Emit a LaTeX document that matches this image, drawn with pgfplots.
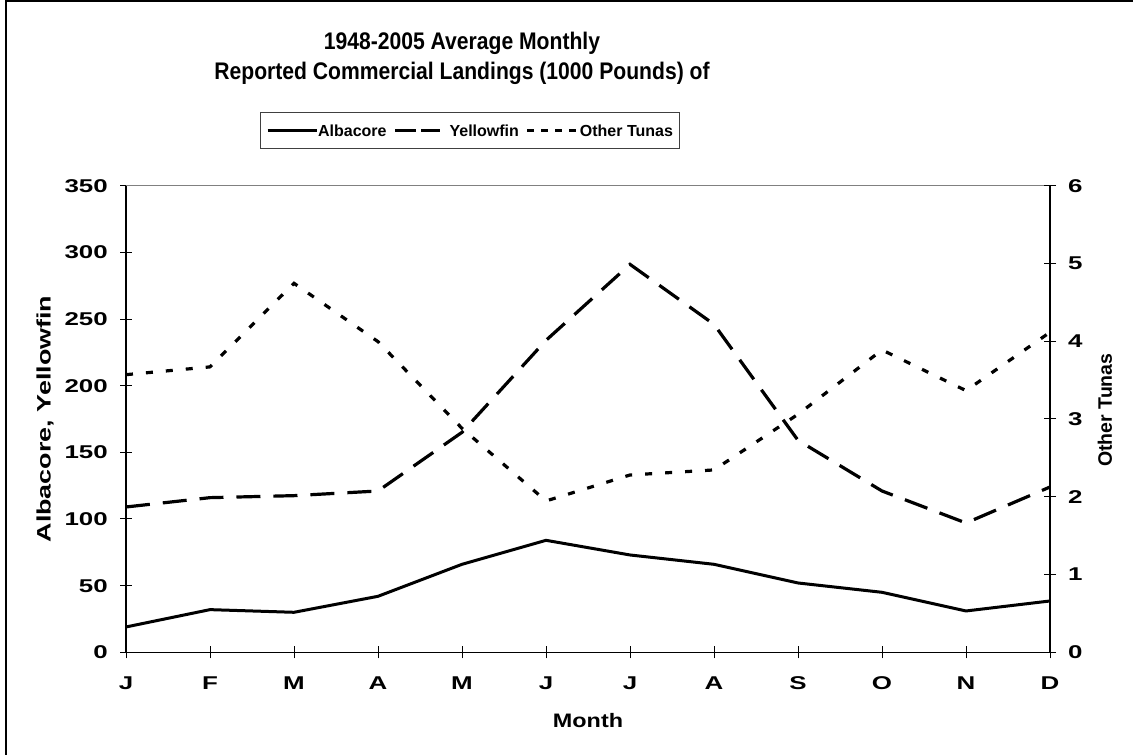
\documentclass[border=0pt]{standalone}
\usepackage{fontspec}
\setmainfont{Liberation Sans}
\newfontfamily\tickfont{Liberation Sans}[FakeStretch=1.4]
\newfontfamily\monthfont{Liberation Sans}[FakeStretch=1.2]
\newfontfamily\ylabfont{Liberation Sans}[FakeStretch=1.38]
\newfontfamily\titlefont{Liberation Sans}[FakeStretch=0.88]
\usepackage{pgfplots}
\pgfplotsset{compat=1.18}
\definecolor{bordergray}{RGB}{128,128,128}
\begin{document}
\begin{tikzpicture}
\useasboundingbox (0,0) rectangle (1133pt,755pt);
\pgfplotsset{
  common/.style={
    scale only axis, width=924pt, height=466.6pt,
    at={(126pt,102.7pt)}, anchor=south west,
    xmin=0, xmax=11, clip=false,
    major tick length=12pt, tick align=center,
    tick style={line width=1pt, black},
    axis line style={line width=1.2pt, black},
    /pgf/number format/assume math mode=true,
    ticklabel style={font=\tickfont\bfseries\fontsize{18.5}{20}\selectfont, inner sep=0pt},
  }
}
\begin{axis}[common,
  axis x line*=bottom, axis y line*=left,
  xtick={0,...,11}, xticklabels={J,F,M,A,M,J,J,A,S,O,N,D},
  xticklabel style={anchor=north, yshift=-18pt},
  ymin=0, ymax=350, ytick={0,50,...,350},
  yticklabel style={anchor=east, xshift=-12pt},
  xlabel={Month},
  xlabel style={at={(axis description cs:0.5,-0.1607)}, anchor=base, inner sep=0pt, font=\monthfont\bfseries\fontsize{19.5}{21}\selectfont},
  ylabel={Albacore, Yellowfin},
  ylabel style={at={(axis description cs:-0.0877,0.5)}, anchor=center, inner sep=0pt, font=\ylabfont\bfseries\fontsize{19.5}{21}\selectfont},
]
% Albacore
\addplot[black, line width=3pt, line join=round] coordinates {
(0,19) (1,32) (2,30) (3,42) (4,66) (5,84) (6,73) (7,66) (8,52) (9,45) (10,31) (11,38.5)};
% Yellowfin
\addplot[black, line width=3.2pt, dash pattern=on 24pt off 13pt] coordinates {
(0,109) (1,116) (2,117.5) (3,121) (4,165) (5,234) (6,291) (7,246) (8,159) (9,121) (10,97) (11,124)};
% plot-area top border
\addplot[forget plot, bordergray, line width=1.5pt] coordinates {(0,350) (11,350)};
\end{axis}
\begin{axis}[common,
  axis x line=none, axis y line*=right,
  ymin=0, ymax=6, ytick={0,...,6},
  yticklabel style={anchor=west, xshift=12pt},
  ylabel={Other Tunas},
  ylabel style={at={(axis description cs:1.0595,0.519)}, anchor=center, inner sep=0pt, font=\bfseries\fontsize{19.5}{21}\selectfont},
  legend columns=3,
  legend style={at={(0.3718,1.118)}, anchor=center, draw=black!75, line width=0.8pt,
    inner xsep=6pt, inner ysep=12pt,
    font=\bfseries\fontsize{16}{18}\selectfont,
    nodes={inner sep=0pt, text height=11.5pt, text depth=0pt},
    /tikz/every odd column/.append style={column sep=0pt},
    /tikz/every even column/.append style={column sep=7pt},
    cells={anchor=west}},
]
\addlegendimage{legend image code/.code={\draw[black, line width=3pt] (0pt,0pt) -- (49pt,0pt);}}
\addlegendentry{Albacore}
\addlegendimage{legend image code/.code={\draw[black, line width=3pt, dash pattern=on 21pt off 5pt] (0pt,0pt) -- (45pt,0pt);}}
\addlegendentry{\hspace{8pt}Yellowfin}
\addlegendimage{legend image code/.code={\draw[black, line width=3pt, dash pattern=on 7pt off 7pt] (0pt,0pt) -- (49pt,0pt);}}
\addlegendentry{\hspace{2pt}Other Tunas}
% Other Tunas
\addplot[forget plot, black, line width=3.2pt, dash pattern=on 7pt off 13pt] coordinates {
(0,3.57) (1,3.67) (2,4.745) (3,3.995) (4,2.88) (5,1.946) (6,2.28) (7,2.345) (8,3.06) (9,3.888) (10,3.365) (11,4.115)};
\end{axis}
\node[anchor=base, font=\titlefont\bfseries\fontsize{24}{26}\selectfont] at (462pt,705pt) {1948-2005 Average Monthly};
\node[anchor=base, font=\titlefont\bfseries\fontsize{24}{26}\selectfont] at (462pt,675pt) {Reported Commercial Landings (1000 Pounds) of};
\draw[black, line width=2.4pt] (6.2pt,0pt) -- (6.2pt,753.8pt) -- (1133pt,753.8pt);
\end{tikzpicture}
\end{document}
